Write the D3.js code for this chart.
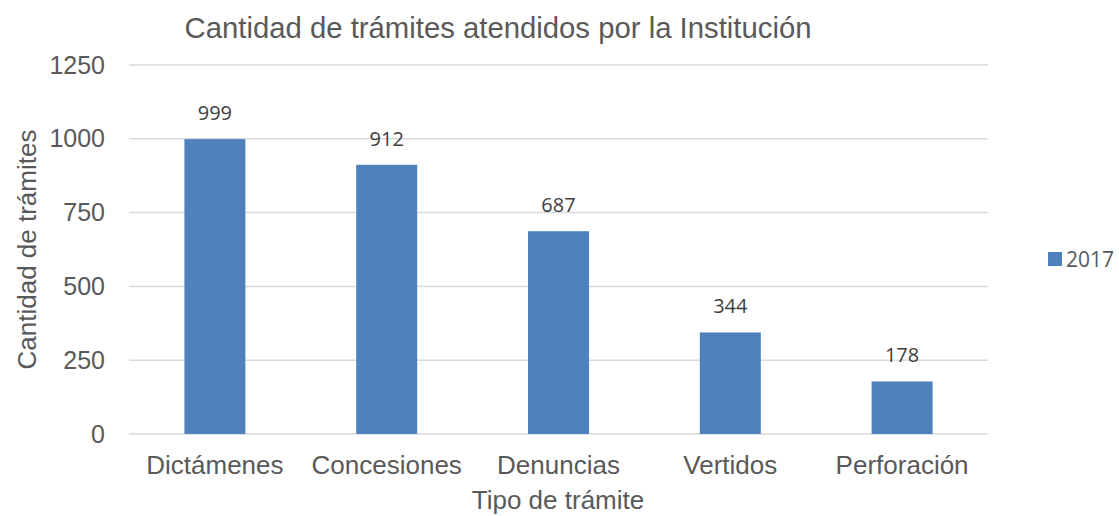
<!DOCTYPE html>
<html>
<head>
<meta charset="utf-8">
<script src="https://cdn.jsdelivr.net/npm/d3@7"></script>
<style>
  body { margin: 0; background: #fff; }
  svg { display: block; }
</style>
</head>
<body>
<svg id="chart" width="1119" height="516"></svg>
<script>
var categories = ["Dictámenes", "Concesiones", "Denuncias", "Vertidos", "Perforación"];
var values2017 = [999, 912, 687, 344, 178];
var yTicks = [0, 250, 500, 750, 1000, 1250];
var seriesName = "2017";

function render() {
    var svg = d3.select("#chart");
    var plotLeft = 129, plotRight = 988, plotTop = 65, plotBottom = 434;

    var xs = d3.scaleBand().domain(categories).range([plotLeft, plotRight]).paddingInner(0.645).paddingOuter(0.3225);
    var ys = d3.scaleLinear().domain([0, 1250]).range([plotBottom, plotTop]);

    // gridlines
    svg.append("g")
        .selectAll("line")
        .data(yTicks)
        .enter()
        .append("line")
            .attr("x1", plotLeft)
            .attr("x2", plotRight)
            .attr("y1", function(d) { return ys(d); })
            .attr("y2", function(d) { return ys(d); })
            .attr("stroke", "#d9d9d9")
            .attr("stroke-width", 1.5);

    // y axis labels
    var yAxis = d3.axisLeft(ys).tickValues(yTicks).tickFormat(d3.format("d")).tickSize(0).tickPadding(24);
    var yg = svg.append("g")
        .attr("transform", "translate(" + plotLeft + ",0)")
        .call(yAxis);
    yg.select(".domain").remove();
    yg.selectAll("text")
        .style("font-family", "'Liberation Sans', Arial, sans-serif")
        .style("font-size", "25px")
        .attr("fill", "#595959");

    // bars
    svg.append("g")
        .selectAll("rect")
        .data(values2017)
        .enter()
        .append("rect")
            .attr("x", function(d, i) { return xs(categories[i]); })
            .attr("y", function(d) { return ys(d); })
            .attr("width", xs.bandwidth())
            .attr("height", function(d) { return ys(0) - ys(d); })
            .attr("fill", "#4f81bd");

    // data labels
    svg.append("g")
        .selectAll("text")
        .data(values2017)
        .enter()
        .append("text")
            .attr("x", function(d, i) { return xs(categories[i]) + xs.bandwidth() / 2; })
            .attr("y", function(d) { return ys(d) - 19; })
            .attr("text-anchor", "middle")
            .style("font-family", "'Open Sans', Lato, sans-serif")
            .style("font-size", "20px")
            .attr("fill", "#404040")
            .text(function(d) { return d; });

    // x axis labels
    var xAxis = d3.axisBottom(xs).tickSize(0).tickPadding(22);
    var xg = svg.append("g")
        .attr("transform", "translate(0," + plotBottom + ")")
        .call(xAxis);
    xg.select(".domain").remove();
    xg.selectAll("text")
        .style("font-family", "'Liberation Sans', Arial, sans-serif")
        .style("font-size", "26px")
        .attr("fill", "#595959");

    // titles
    svg.append("text")
        .attr("x", 498)
        .attr("y", 38)
        .attr("text-anchor", "middle")
        .style("font-family", "'Liberation Sans', Arial, sans-serif")
        .style("font-size", "29.3px")
        .attr("fill", "#595959")
        .text("Cantidad de trámites atendidos por la Institución");

    svg.append("text")
        .attr("x", 558)
        .attr("y", 509)
        .attr("text-anchor", "middle")
        .style("font-family", "'Liberation Sans', Arial, sans-serif")
        .style("font-size", "26px")
        .attr("fill", "#595959")
        .text("Tipo de trámite");

    svg.append("text")
        .attr("transform", "translate(36," + ((plotTop + plotBottom) / 2) + ") rotate(-90)")
        .attr("text-anchor", "middle")
        .style("font-family", "'Liberation Sans', Arial, sans-serif")
        .style("font-size", "26px")
        .attr("fill", "#595959")
        .text("Cantidad de trámites");

    // legend
    var legend = svg.append("g").attr("transform", "translate(1048,252)");
    legend.append("rect")
        .attr("width", 14)
        .attr("height", 14)
        .attr("fill", "#4f81bd");
    legend.append("text")
        .attr("x", 18)
        .attr("y", 15)
        .style("font-family", "'Open Sans', Lato, sans-serif")
        .style("font-size", "21px")
        .attr("fill", "#595959")
        .text(seriesName);
}

render();
</script>
</body>
</html>
